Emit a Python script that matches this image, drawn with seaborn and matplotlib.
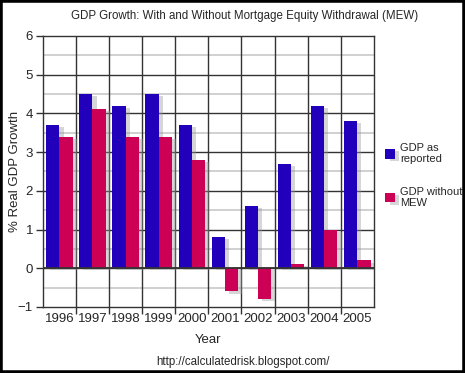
import numpy as np
import pandas as pd
import seaborn as sns
import matplotlib.pyplot as plt
import matplotlib.patheffects as pe
from matplotlib.patches import Rectangle

years = ["1996", "1997", "1998", "1999", "2000", "2001", "2002", "2003", "2004", "2005"]
gdp_reported = [3.7, 4.5, 4.2, 4.5, 3.7, 0.8, 1.6, 2.7, 4.2, 3.8]
gdp_without_mew = [3.4, 4.1, 3.4, 3.4, 2.8, -0.6, -0.8, 0.1, 1.0, 0.2]
series_names = ["GDP as\nreported", "GDP without\nMEW"]
colors = ["#2200bb", "#cc0055"]

df = pd.DataFrame({
    "Year": years * 2,
    "Growth": gdp_reported + gdp_without_mew,
    "Series": [series_names[0]] * len(years) + [series_names[1]] * len(years),
})

sns.set_theme(style="white")
plt.rcParams['font.family'] = ['Liberation Sans', 'DejaVu Sans']

fig = plt.figure(figsize=(4.65, 3.73), dpi=100)
ax = fig.add_axes([0.092, 0.177, 0.712, 0.727])

shadow = [pe.SimplePatchShadow(offset=(3, -1.5), shadow_rgbFace='#999999', alpha=0.4), pe.Normal()]
sns.barplot(data=df, x="Year", y="Growth", hue="Series", palette=colors,
            width=0.8, saturation=1, ax=ax, legend=True)
for p in ax.patches:
    p.set_path_effects(shadow)
    p.set_linewidth(0)

ax.set_xlim(-0.5, len(years) - 0.5)
ax.set_ylim(-1, 6)
ax.set_yticks(range(-1, 7))
ax.set_xticks(np.arange(0.5, len(years) - 0.5, 1), minor=True)

ax.grid(False)
for v in np.arange(-0.5, 6, 1):
    ax.axhline(v, color='#c8c8c8', lw=1.2, zorder=0)
for v in range(0, 6):
    ax.axhline(v, color='#333333', lw=1, zorder=0.5)
for v in np.arange(0.5, len(years) - 0.5, 1):
    ax.axvline(v, color='#333333', lw=1, zorder=0.5)
ax.axhline(0, color='#333333', lw=1.3, zorder=3)

for s in ax.spines.values():
    s.set_color('#333333')
    s.set_linewidth(1)

ax.tick_params(axis='y', which='major', direction='out', length=5, width=1, color='#333333',
               left=True, labelsize=9.5, pad=2)
ax.tick_params(axis='x', which='major', length=0, labelsize=9.5, pad=4)
ax.tick_params(axis='x', which='minor', direction='out', length=5, width=1, color='#333333', bottom=True)

ax.set_xlabel("Year", fontsize=9.5, labelpad=7)
ax.set_ylabel("% Real GDP Growth", fontsize=9.5)
ax.yaxis.set_label_coords(-0.065, 0.5)

fig.text(0.525, 0.958, "GDP Growth: With and Without Mortgage Equity Withdrawal (MEW)",
         ha='center', va='center', fontsize=8.3)

handles, labels = ax.get_legend_handles_labels()
leg = ax.legend(handles, labels, loc='upper left', bbox_to_anchor=(0.829, 0.617),
                bbox_transform=fig.transFigure, frameon=False, fontsize=8,
                handlelength=0.85, handleheight=0.95, handletextpad=0.5, labelspacing=2.0,
                borderaxespad=0, borderpad=0)
for h in leg.legend_handles:
    h.set_path_effects(shadow)

fig.text(0.523, 0.029, "http://calculatedrisk.blogspot.com/", ha='center', va='center', fontsize=8.3)

fig.patches.append(Rectangle((0, 0), 1, 1, transform=fig.transFigure, fill=False,
                             edgecolor='black', linewidth=4, zorder=10))

fig.savefig("out.png", dpi=100)
